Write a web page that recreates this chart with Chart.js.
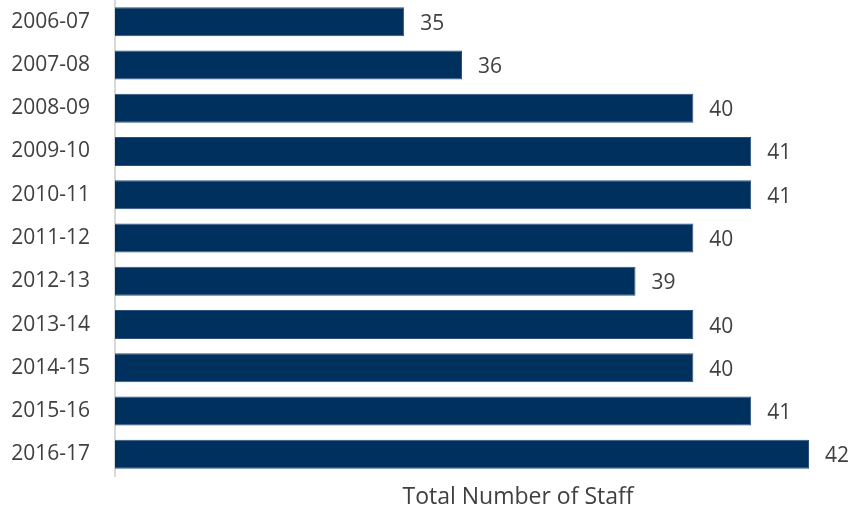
<!DOCTYPE html>
<html>
<head>
<meta charset="utf-8">
<script src="https://cdn.jsdelivr.net/npm/chart.js@4"></script>
<style>
  html, body { margin: 0; padding: 0; background: #fff; }
  #wrap { width: 848px; height: 512px; }
</style>
</head>
<body>
<div id="wrap"><canvas id="staffChart" width="848" height="512"></canvas></div>
<script>
// data
const years = ['2006-07', '2007-08', '2008-09', '2009-10', '2010-11', '2011-12',
               '2012-13', '2013-14', '2014-15', '2015-16', '2016-17'];
const staff = [35, 36, 40, 41, 41, 40, 39, 40, 40, 41, 42];
const axisTitle = 'Total Number of Staff';

const textColor = '#404040';
const fontFamily = '"Open Sans", "Liberation Sans", sans-serif';

// value labels at the end of each bar
const valueLabels = {
    id: 'valueLabels',
    afterDatasetsDraw(chart) {
        const c = chart.ctx;
        const meta = chart.getDatasetMeta(0);
        c.save();
        c.font = '21px ' + fontFamily;
        c.fillStyle = textColor;
        c.textAlign = 'left';
        c.textBaseline = 'middle';
        meta.data.forEach((bar, i) => {
            c.fillText(staff[i], bar.x + 16, bar.y + 2);
        });
        c.restore();
    }
};

// axis title, Excel places it under the whole plot incl. labels
const bottomTitle = {
    id: 'bottomTitle',
    afterDraw(chart) {
        const c = chart.ctx;
        c.save();
        c.font = '23px ' + fontFamily;
        c.fillStyle = textColor;
        c.textAlign = 'center';
        c.textBaseline = 'middle';
        c.fillText(axisTitle, 518, 497);
        c.restore();
    }
};

let ctx = document.getElementById('staffChart').getContext('2d');
let chart = new Chart(ctx, {
    type: 'bar',
    data: {
        labels: years,
        datasets: [{
            label: axisTitle,
            data: staff,
            backgroundColor: '#00305e',
            borderColor: '#2c5180',
            borderWidth: 1,
            barPercentage: 0.67,
            categoryPercentage: 1
        }]
    },
    options: {
        indexAxis: 'y',
        responsive: false,
        animation: false,
        layout: { padding: { left: 0, right: 39, top: 0, bottom: 36 } },
        plugins: { legend: { display: false }, tooltip: { enabled: false } },
        scales: {
            x: {
                display: false,
                min: 30,
                max: 42
            },
            y: {
                grid: { display: false },
                border: { display: true, color: '#d9d9d9', width: 2 },
                ticks: {
                    color: textColor,
                    padding: 17,
                    font: { family: fontFamily, size: 21 }
                },
                afterFit(scale) {
                    scale.width = 115;
                    scale.paddingTop = 0;
                    scale.paddingBottom = 0;
                }
            }
        }
    },
    plugins: [valueLabels, bottomTitle]
});
</script>
</body>
</html>
